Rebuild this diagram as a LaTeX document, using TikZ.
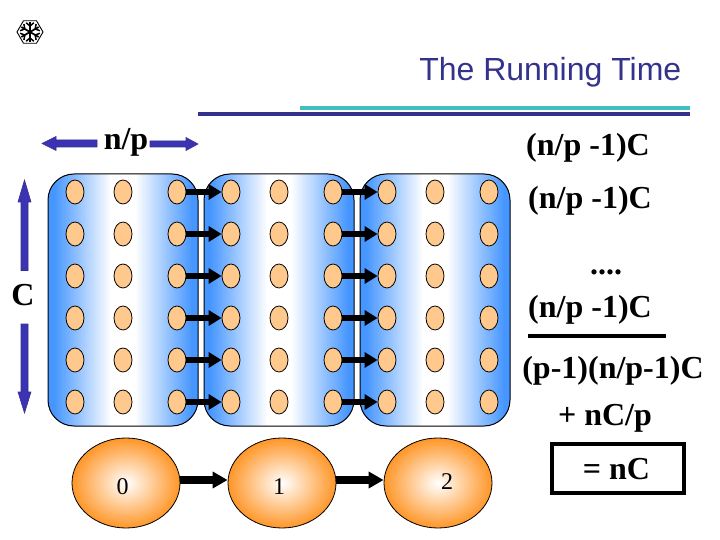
\documentclass[tikz,border=0pt]{standalone}
\usepackage{fontspec}
\setmainfont{Liberation Serif}
\newfontfamily\titlefont{Liberation Sans}
\usetikzlibrary{shapes.geometric, arrows.meta, positioning}
\definecolor{titleblue}{RGB}{51,51,140}
\definecolor{tealline}{RGB}{64,192,192}
\definecolor{panelblue}{RGB}{70,150,255}
\definecolor{dotfill}{RGB}{255,200,140}
\definecolor{procorange}{RGB}{255,150,40}
\definecolor{arrowblue}{RGB}{60,50,180}
\pgfdeclarehorizontalshading{panelshade}{100bp}{color(0bp)=(panelblue); color(27bp)=(panelblue); color(46bp)=(white); color(54bp)=(white); color(73bp)=(panelblue); color(100bp)=(panelblue)}

\begin{document}
\begin{tikzpicture}[x=1pt, y=-1pt,
    panel/.style={draw, line width=1pt, rounded corners=26pt, minimum width=150pt, minimum height=252pt, shading=panelshade},
    dot/.style={draw, line width=0.8pt, ellipse, fill=dotfill, minimum width=18pt, minimum height=24pt, inner sep=0pt},
    proc/.style={draw, line width=0.8pt, ellipse, inner color=white, outer color=procorange, minimum width=108pt, minimum height=90pt, inner sep=0pt},
    sendarrow/.style={line width=5.5pt, -{Triangle[length=13pt, width=15pt]}},
    ringarrow/.style={line width=7.5pt, -{Triangle[length=15pt, width=16pt]}},
    blockarrow/.style={draw=titleblue, fill=arrowblue, line width=0.6pt, line cap=butt},
    sumtext/.style={font=\bfseries\fontsize{32}{36}\selectfont, inner sep=0pt, anchor=base},
    digit/.style={font=\fontsize{24}{28}\selectfont, inner sep=0pt}]
    \useasboundingbox (0,0) rectangle (720,540);

    % logo
    \node[regular polygon, regular polygon sides=6, draw, line width=0.9pt, minimum size=26pt, inner sep=0pt] (logo) at (30,32) {};
    \foreach \a in {30,90,...,330} {
        \draw[line width=1.7pt] (logo.center) -- ++(\a:10pt);
        \draw[line width=1.5pt] (logo.center) ++(\a:6pt) -- ++(\a+50:5pt);
        \draw[line width=1.5pt] (logo.center) ++(\a:6pt) -- ++(\a-50:5pt);
    }

    % title
    \node[anchor=base east, font=\titlefont\fontsize{32}{36}\selectfont, text=titleblue, inner sep=0pt] (title) at (681.5,81) {The Running Time};
    \coordinate (tealstart) at (300,108);
    \coordinate (tealend) at (690,108);
    \coordinate (bluestart) at (198,114);
    \coordinate (blueend) at (690,114);
    \draw[tealline, line width=4pt] (tealstart) -- (tealend);
    \draw[titleblue, line width=4pt] (bluestart) -- (blueend);

    % panels
    \node[panel] (panel0) at (123,300) {};
    \node[panel] (panel1) at (279,300) {};
    \node[panel] (panel2) at (435,300) {};

    % dots
    \foreach \c/\x in {1/75,2/123,3/177,4/231,5/279,6/333,7/387,8/435,9/489} {
        \foreach \r/\y in {1/192,2/234,3/276,4/318,5/360,6/402} {
            \node[dot] (d\c-\r) at (\x,\y) {};
        }
    }
    \foreach \r in {1,...,6} {
        \draw[sendarrow] (d3-\r) -- (d4-\r);
        \draw[sendarrow] (d6-\r) -- (d7-\r);
    }

    % processes
    \node[proc] (proc0) at (126,483) {};
    \node[proc] (proc1) at (282,483) {};
    \node[proc] (proc2) at (438,483) {};
    \node[digit] (lab0) at (122.5,487) {0};
    \node[digit] (lab1) at (279,487) {1};
    \node[digit] (lab2) at (447,482) {2};
    \draw[ringarrow] (proc0.east |- 0,480) -- (proc1.west |- 0,480);
    \draw[ringarrow] (proc1.east |- 0,480) -- (proc2.west |- 0,480);

    % size labels
    \node[sumtext] (np) at (126,150) {n/p};
    \node[sumtext] (csize) at (23,305) {C};
    \coordinate (npleft) at (42,143.5);
    \coordinate (npright) at (198,144);
    \coordinate (ctop) at (24.5,180);
    \coordinate (cbottom) at (24.5,413);
    \fill[blockarrow] (npleft) -- ++(14,-7) -- ++(0,3.5) -- (97,140) -- (97,147) -- (56,147) -- ++(0,3.5) -- cycle;
    \fill[blockarrow] (npright) -- ++(-12,-6.5) -- ++(0,3.5) -- (150,141) -- (150,147) -- (186,147) -- ++(0,3.5) -- cycle;
    \fill[blockarrow] (ctop) -- ++(6.5,22) -- ++(-3,0) -- (28,270.5) -- (21,270.5) -- (21,202) -- ++(-3,0) -- cycle;
    \fill[blockarrow] (cbottom) -- ++(6.5,-21) -- ++(-3,0) -- (28,324) -- (21,324) -- (21,392) -- ++(-3,0) -- cycle;

    % sum
    \node[sumtext] (term0) at (588,155.5) {(n/p -1)C};
    \node[sumtext] (term1) at (590,208.5) {(n/p -1)C};
    \node[sumtext] (dots) at (606,274) {....};
    \node[sumtext] (term2) at (590,317.5) {(n/p -1)C};
    \coordinate (rulestart) at (528,336);
    \coordinate (ruleend) at (666,336);
    \draw[line width=4pt] (rulestart) -- (ruleend);
    \node[sumtext] (total) at (613,378) {(p-1)(n/p-1)C};
    \node[sumtext] (extra) at (605,425) {+ nC/p};
    \node[draw, line width=3.5pt, minimum width=132pt, minimum height=49pt] (resultbox) at (618,468.5) {};
    \node[sumtext] (result) at (616.5,479) {= nC};
\end{tikzpicture}
\end{document}
